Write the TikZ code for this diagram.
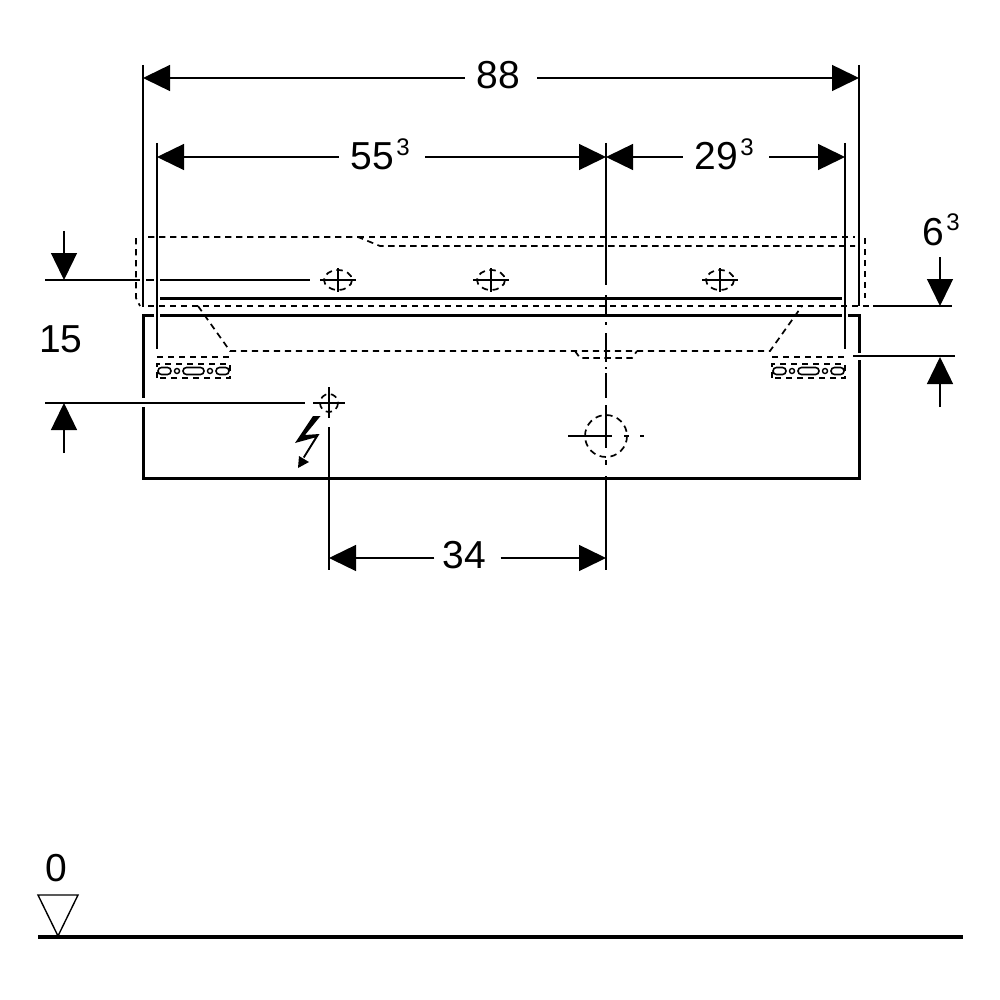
\documentclass[tikz,border=0pt]{standalone}
\usepackage{fontspec}
\setmainfont{Liberation Sans}
\usetikzlibrary{arrows.meta}
\tikzset{
  every node/.style={
    align=center,
    draw=none,
  },
  dimtext/.style={font=\fontsize{19.5}{22}\selectfont, inner xsep=5.5pt, inner ysep=0pt, text height=13.5pt, text depth=3pt},
  suptext/.style={dimtext, inner xsep=6pt, text depth=0.5pt},
  dimarrow/.style={line width=0.7pt, -{Triangle[length=13.5pt,width=13pt]}},
  thinline/.style={line width=0.7pt},
  thickline/.style={line width=1.5pt},
  hidden/.style={line width=0.85pt, dash pattern=on 3.2pt off 2.3pt},
  slothole/.style={line width=0.8pt, rounded corners=1.7pt},
}
\newcommand{\Sup}[1]{\hspace{1pt}\raisebox{7pt}{\fontsize{12}{14}\selectfont #1}\hspace{1.7pt}}

\begin{document}
\begin{tikzpicture}[x=0.5pt,y=-0.5pt]
    \useasboundingbox (0,0) rectangle (1000,1000);
    % top dimensions
    \node[dimtext] (dimAll) at (501,78) {88\hspace{3pt}};
    \coordinate (allL) at (143,78);
    \coordinate (allR) at (859,78);
    \draw[dimarrow] (dimAll) -- (allL);
    \draw[dimarrow] (dimAll) -- (allR);
    \node[suptext] (dimLeft) at (382,157) {55\Sup{3}};
    \coordinate (leftL) at (157,157);
    \coordinate (leftR) at (606,157);
    \draw[dimarrow] (dimLeft) -- (leftL);
    \draw[dimarrow] (dimLeft) -- (leftR);
    \node[suptext] (dimRight) at (726,157) {29\Sup{3}};
    \coordinate (rightL) at (606,157);
    \coordinate (rightR) at (845,157);
    \draw[dimarrow] (dimRight) -- (rightL);
    \draw[dimarrow] (dimRight) -- (rightR);
    \node[dimtext, inner xsep=4pt] (dimHole) at (467.5,558) {34\hspace{3pt}};
    \coordinate (holeL) at (329,558);
    \coordinate (holeR) at (606,558);
    \draw[dimarrow] (dimHole) -- (holeL);
    \draw[dimarrow] (dimHole) -- (holeR);
    % side dimensions
    \node[dimtext] (dimHeight) at (61,342) {15};
    \node[suptext] (dimTop) at (943,232) {6\Sup{3}};
    \coordinate (a1) at (64,231);
    \coordinate (a2) at (64,280);
    \coordinate (b1) at (64,453);
    \coordinate (b2) at (64,403);
    \coordinate (c1) at (940,257);
    \coordinate (c2) at (940,306);
    \coordinate (d1) at (940,407);
    \coordinate (d2) at (940,357);
    \draw[dimarrow] (a1) -- (a2);
    \draw[dimarrow] (b1) -- (b2);
    \draw[dimarrow] (c1) -- (c2);
    \draw[dimarrow] (d1) -- (d2);
    % extension lines
    \draw[thinline] (143,65) -- (143,307);
    \draw[thinline] (859,65) -- (859,306);
    \draw[thinline] (157,143) -- (157,349);
    \draw[thinline] (845,143) -- (845,349);
    \draw[thinline] (606,143) -- (606,285);
    \draw[thinline] (606,295) -- (606,315);
    \draw[thinline] (606,476) -- (606,570);
    \draw[thinline] (329,427) -- (329,570);
    \draw[thinline] (45,280) -- (140,280) (146,280) -- (154,280) (160,280) -- (310,280);
    \draw[thinline] (45,403) -- (305,403);
    \draw[thinline] (873,306) -- (952,306);
    \draw[thinline] (853,356) -- (955,356);
    % body
    \draw[thickline] (154,315) -- (143,315) -- (143,398);
    \draw[thickline] (143,407) -- (143,478) -- (859,478) -- (859,360);
    \draw[thickline] (859,353) -- (859,315) -- (848,315);
    \draw[thickline] (160,315) -- (842,315);
    \draw[thickline] (160,298) -- (842,298);
    % centre line
    \draw[thinline] (606,322) -- (606,325) (606,333) -- (606,362) (606,367) -- (606,369)
      (606,373) -- (606,398) (606,405) -- (606,448) (606,460) -- (606,465);
    % hidden edges
    \draw[hidden] (148,237) -- (358,237) -- (380,246) -- (855,246);
    \draw[hidden] (358,237) -- (855,237);
    \draw[hidden] (136,238) -- (136,298) -- (140,306);
    \draw[hidden] (865,238) -- (865,298);
    \draw[hidden] (148,306) -- (872,306);
    \draw[hidden] (198,306) -- (230,351) -- (770,351) -- (802,306);
    \draw[hidden] (575,351) -- (580,358) -- (632,358) -- (637,351);
    % slots
    \foreach \sx in {0,615} {
      \draw[hidden] ({157+\sx},357) -- ({230+\sx},357);
      \draw[hidden] ({157+\sx},378) -- ({157+\sx},364) -- ({230+\sx},364) -- ({230+\sx},378) -- cycle;
      \draw[slothole] ({158+\sx},367.5) rectangle ({171+\sx},374.5);
      \draw[slothole] ({183+\sx},367.5) rectangle ({204+\sx},374.5);
      \draw[slothole] ({216+\sx},367.5) rectangle ({229+\sx},374.5);
      \draw[thinline] ({177+\sx},371) circle[radius=2.5];
      \draw[thinline] ({210+\sx},371) circle[radius=2.5];
    }
    % fixing holes
    \foreach \px in {338,491,720} {
      \draw[line width=0.9pt] ({\px-18},280) -- ({\px+18},280) (\px,268) -- (\px,292);
      \draw[hidden] (\px,280) ellipse[x radius=14,y radius=10];
    }
    \draw[thinline] (313,403) -- (345,403) (329,387) -- (329,418);
    \draw[hidden] (329,403) circle[radius=9];
    \draw[hidden] (606,436) circle[radius=21];
    \draw[line width=0.9pt] (568,436) -- (612,436);
    \draw[thinline] (624,436) -- (629,436) (640,436) -- (644,436);
    % electric connection
    \fill (313,416) -- (320.5,416) -- (305,435) -- (319.5,434) -- (304.5,458) -- (303,457)
      -- (315,437.5) -- (295,443) -- cycle;
    \fill (298,468) -- (299,456) -- (309,462) -- cycle;
    % floor level
    \node[dimtext, inner xsep=0pt] (levelZero) at (56,871) {0};
    \coordinate (t1) at (38,895);
    \coordinate (t2) at (78,895);
    \coordinate (t3) at (58,936);
    \draw[thinline] (t1) -- (t2) -- (t3) -- cycle;
    \draw[line width=2pt] (38,937) -- (963,937);
\end{tikzpicture}
\end{document}
